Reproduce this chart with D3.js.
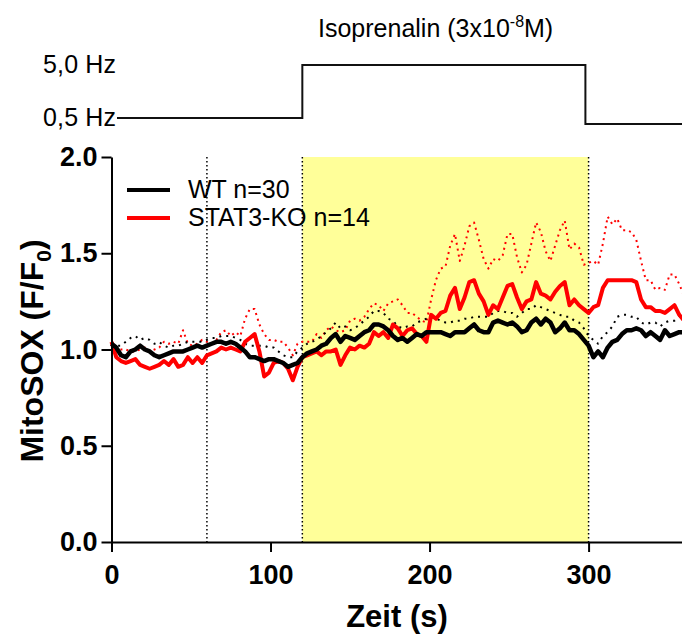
<!DOCTYPE html>
<html><head><meta charset="utf-8">
<script src="https://cdn.jsdelivr.net/npm/d3@7"></script>
<style>body{margin:0;background:#fff}svg{display:block}text{font-family:Arial,"Liberation Sans",sans-serif}</style>
</head><body><svg id="c" width="682" height="636"></svg>
<script>
// ---- data ----
const timeStep = 3; // seconds between samples, t = 0..360
const wtMean = [1.03,1.01,0.97,0.96,0.99,1.00,1.02,1.00,0.99,0.97,0.96,0.97,0.98,0.99,0.99,0.99,1.00,1.01,1.02,1.01,
1.02,1.03,1.04,1.04,1.03,1.04,1.03,1.01,0.99,0.96,0.96,0.95,0.94,0.95,0.95,0.94,0.93,0.91,0.92,0.93,
0.96,0.98,0.99,1.00,1.02,1.03,1.06,1.08,1.04,1.07,1.06,1.05,1.07,1.09,1.10,1.13,1.13,1.12,1.10,1.07,
1.05,1.06,1.04,1.06,1.08,1.07,1.09,1.09,1.09,1.09,1.08,1.07,1.09,1.09,1.09,1.11,1.13,1.10,1.09,1.09,
1.14,1.15,1.14,1.13,1.14,1.12,1.09,1.10,1.14,1.16,1.13,1.16,1.14,1.09,1.11,1.14,1.10,1.10,1.08,1.05,
1.02,0.96,0.99,0.96,1.01,1.04,1.05,1.08,1.10,1.10,1.11,1.10,1.07,1.09,1.07,1.05,1.10,1.07,1.08,1.09,1.09];
const wtUpper = [1.03,1.02,1.02,1.04,1.06,1.07,1.05,1.06,1.05,1.03,1.04,1.02,1.01,1.02,1.02,1.03,1.04,1.04,1.04,1.04,
1.05,1.06,1.06,1.07,1.07,1.07,1.06,1.05,1.03,1.02,1.02,1.02,1.02,1.01,1.01,0.99,0.97,0.96,0.96,0.99,
1.01,1.03,1.04,1.05,1.07,1.09,1.11,1.14,1.11,1.12,1.10,1.11,1.13,1.15,1.17,1.20,1.20,1.19,1.16,1.15,
1.12,1.11,1.12,1.12,1.14,1.15,1.16,1.17,1.16,1.15,1.14,1.14,1.15,1.15,1.16,1.16,1.17,1.17,1.17,1.17,
1.19,1.20,1.20,1.19,1.19,1.17,1.19,1.21,1.21,1.23,1.22,1.21,1.20,1.19,1.18,1.17,1.17,1.15,1.14,1.11,
1.07,1.05,1.03,1.07,1.09,1.12,1.17,1.18,1.18,1.17,1.17,1.14,1.13,1.14,1.14,1.12,1.14,1.15,1.15,1.17,1.17];
const koMean = [1.04,0.96,0.94,0.93,0.94,0.95,0.92,0.91,0.90,0.91,0.92,0.94,0.92,0.95,0.91,0.92,0.96,0.93,0.96,0.93,
0.97,0.98,0.99,1.01,1.00,1.01,1.00,0.99,1.04,1.06,1.08,0.99,0.86,0.88,0.93,0.94,0.93,0.90,0.84,0.91,
0.96,0.97,0.98,0.99,0.97,0.99,0.99,1.00,0.92,0.97,1.01,1.00,1.02,1.01,1.03,1.09,1.07,1.09,1.06,1.13,
1.11,1.07,1.10,1.11,1.08,1.07,1.04,1.18,1.16,1.19,1.20,1.28,1.32,1.21,1.27,1.35,1.36,1.29,1.25,1.18,
1.23,1.21,1.27,1.33,1.34,1.27,1.21,1.25,1.26,1.35,1.29,1.28,1.26,1.30,1.33,1.35,1.23,1.26,1.23,1.21,
1.19,1.22,1.23,1.32,1.36,1.36,1.36,1.36,1.36,1.36,1.35,1.26,1.22,1.22,1.20,1.20,1.19,1.21,1.23,1.18,1.15];
const koUpper = [1.04,1.01,1.00,1.00,0.99,0.99,1.00,1.01,0.99,1.00,1.01,1.04,1.03,1.04,1.03,1.10,1.03,1.02,1.03,1.05,
1.04,1.03,1.05,1.09,1.10,1.07,1.09,1.07,1.16,1.21,1.21,1.13,1.08,1.05,1.05,1.04,1.04,1.01,0.97,1.03,
1.04,1.04,1.04,1.08,1.06,1.10,1.12,1.10,1.09,1.10,1.15,1.16,1.15,1.17,1.21,1.24,1.23,1.20,1.24,1.25,
1.26,1.23,1.19,1.19,1.17,1.15,1.14,1.26,1.36,1.42,1.43,1.54,1.60,1.46,1.54,1.64,1.66,1.57,1.47,1.42,
1.47,1.46,1.49,1.60,1.60,1.48,1.40,1.44,1.55,1.66,1.61,1.51,1.46,1.54,1.62,1.67,1.52,1.55,1.53,1.44,
1.45,1.46,1.44,1.55,1.69,1.65,1.68,1.62,1.62,1.61,1.57,1.46,1.36,1.36,1.31,1.32,1.31,1.39,1.39,1.34,1.28];
const xTicks = [0, 100, 200, 300];
const yTicks = [0.0, 0.5, 1.0, 1.5, 2.0];
const isoWindow = [120, 300];          // Isoprenalin application (s)
const markerTimes = [60, 120, 300];    // dotted vertical markers (s)
const stimSwitch = [120, 298];         // pacing 0.5 Hz -> 5.0 Hz -> 0.5 Hz
const stimLabels = ["5,0 Hz", "0,5 Hz"];
const legendLabels = ["WT n=30", "STAT3-KO n=14"];
const colors = {wt: "#000000", ko: "#ff0000"};

// ---- chart ----
const svg = d3.select("#c");
svg.append("rect").attr("width",682).attr("height",636).attr("fill","#fff");
const x = d3.scaleLinear().domain([0, 360]).range([111.5, 684]);
const y = d3.scaleLinear().domain([0, 2]).range([542, 157]);

// Isoprenalin shading
svg.append("rect")
  .attr("x", x(isoWindow[0])).attr("width", x(isoWindow[1]) - x(isoWindow[0]))
  .attr("y", y(2)).attr("height", y(0) - y(2))
  .attr("fill", "#ffff99");

// dotted markers
svg.selectAll(".mk").data(markerTimes).join("line")
  .attr("x1", d => x(d)).attr("x2", d => x(d))
  .attr("y1", y(2)).attr("y2", y(0))
  .attr("stroke", "#000").attr("stroke-width", 1.5).attr("stroke-dasharray", "1.5,2.5");

const line = d3.line().x((d, i) => x(i * timeStep)).y(d => y(d));
const series = [
  {d: koUpper, c: colors.ko, w: 2, dash: "2,4"},
  {d: wtUpper, c: colors.wt, w: 2, dash: "2,5"},
  {d: koMean, c: colors.ko, w: 4, dash: null},
  {d: wtMean, c: colors.wt, w: 4.5, dash: null}
];
svg.selectAll(".ser").data(series).join("path")
  .attr("d", s => line(s.d))
  .attr("fill", "none").attr("stroke", s => s.c).attr("stroke-width", s => s.w)
  .attr("stroke-dasharray", s => s.dash).attr("stroke-linejoin", "round");

// axes
const yAxis = svg.append("g").attr("transform", `translate(${x(0)},0)`)
  .call(d3.axisLeft(y).tickValues(yTicks).tickFormat(d3.format(".1f")).tickSize(10).tickSizeOuter(0).tickPadding(4));
const xAxis = svg.append("g").attr("transform", `translate(0,${y(0)})`)
  .call(d3.axisBottom(x).tickValues(xTicks).tickSize(10).tickSizeOuter(0).tickPadding(13));
[yAxis, xAxis].forEach(g => {
  g.selectAll("path,line").attr("stroke", "#000").attr("stroke-width", 2);
  g.selectAll("text").attr("fill", "#000").attr("font-weight", "bold")
    .attr("font-family", "Arial, 'Liberation Sans', sans-serif");
});
yAxis.selectAll("text").attr("font-size", 27);
xAxis.selectAll("text").attr("font-size", 27);

// axis titles
svg.append("text").attr("x", 397).attr("y", 627).attr("text-anchor", "middle")
  .attr("font-size", 31).attr("font-weight", "bold").text("Zeit (s)");
const yt = svg.append("text").attr("transform", "translate(43,351) rotate(-90)")
  .attr("text-anchor", "middle").attr("font-size", 32).attr("font-weight", "bold");
yt.append("tspan").text("MitoSOX (F/F");
yt.append("tspan").attr("font-size", 21).attr("dy", 8).text("0");
yt.append("tspan").attr("dy", -8).text(")");

// legend
const lg = svg.selectAll(".lg").data(legendLabels).join("g")
  .attr("transform", (d, i) => `translate(127,${190 + i * 28})`);
lg.append("line").attr("x1", 0).attr("x2", 43).attr("stroke-width", 4)
  .attr("stroke", (d, i) => i ? colors.ko : colors.wt);
lg.append("text").attr("x", 61).attr("y", 8).attr("font-size", 25).text(d => d);

// stimulation protocol
const yHz = {"5,0 Hz": 65, "0,5 Hz": 118};
svg.selectAll(".hz").data(stimLabels).join("text")
  .attr("x", 43).attr("y", d => yHz[d] + 8).attr("font-size", 25).attr("textLength", 73).text(d => d);
const stimPath = d3.path();
stimPath.moveTo(117, yHz["0,5 Hz"]);
stimPath.lineTo(x(stimSwitch[0]), yHz["0,5 Hz"]);
stimPath.lineTo(x(stimSwitch[0]), yHz["5,0 Hz"]);
stimPath.lineTo(x(stimSwitch[1]), yHz["5,0 Hz"]);
stimPath.lineTo(x(stimSwitch[1]), yHz["0,5 Hz"] + 6);
stimPath.lineTo(684, yHz["0,5 Hz"] + 6);
svg.append("path").attr("d", stimPath.toString()).attr("fill", "none")
  .attr("stroke", "#111").attr("stroke-width", 2);

const iso = svg.append("text").attr("x", 318).attr("y", 37).attr("font-size", 25);
iso.append("tspan").text("Isoprenalin (3x10");
iso.append("tspan").attr("font-size", 16).attr("dy", -10).text("-8");
iso.append("tspan").attr("dy", 10).text("M)");
</script></body></html>
